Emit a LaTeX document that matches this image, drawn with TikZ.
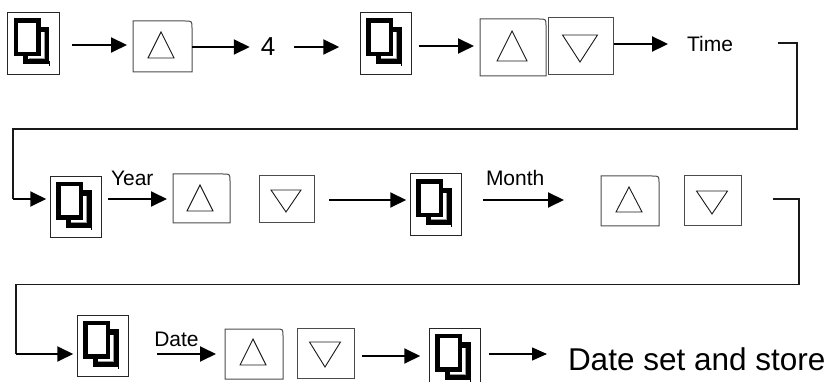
\documentclass[tikz,border=0pt]{standalone}
\usepackage{fontspec}
\setmainfont{Liberation Sans}
\usetikzlibrary{arrows.meta}
\tikzset{
  x=1pt,y=-1pt,
  keybox/.style={draw=black!85,line width=.9pt,inner sep=0pt,outer sep=0pt,minimum width=51.5pt,minimum height=61.5pt},
  btnbox/.style={inner sep=0pt,outer sep=0pt},
  btnline/.style={draw=black!70,line width=1pt},
  tri/.style={draw=black!90,line width=.9pt,line join=miter},
  arr/.style={draw=black,line width=1.9pt,-{Triangle[length=16pt,width=15pt]}},
  thinarr/.style={draw=black,line width=1.3pt,-{Triangle[length=15pt,width=13pt]}},
  wire/.style={draw=black!90,line width=1.2pt,line join=miter},
  lab/.style={inner sep=0pt,outer sep=0pt,font=\fontsize{21}{21}\selectfont},
}
% key icon: #1 name, #2 centre x, #3 centre y
\newcommand{\keyicon}[3]{%
  \node[keybox] (#1) at (#2,#3) {};
  \begin{scope}[shift={(#1.center)}]
    \draw[black,line width=4.6pt,line join=miter] (-17.5,-23) rectangle (5,10.5);
    \draw[black,line width=5.2pt,line join=miter] (6.5,-14) -- (13.3,-14) -- (13.3,18) -- (-7.7,18) -- (-7.7,12.5);
    \draw[black!40,line width=.8pt] (10.4,-11) -- (10.4,15.2) -- (-5,15.2);
    \draw[black,line width=.7pt] (15.6,18) -- (15.6,23);
  \end{scope}}
% up key: #1 name, #2..#5 x1 y1 x2 y2, #6 apex x, #7 apex y, #8 base y, #9 half base
\newcommand{\upkey}[9]{%
  \node[btnbox,minimum width={#4-#2},minimum height={#5-#3}] (#1) at ({(#2+#4)/2},{(#3+#5)/2}) {};
  \draw[btnline] (#1.south west) -- (#1.north west) -- ([xshift=-7pt]#1.north east)
    .. controls (#1.north east) .. ([yshift=-7pt]#1.north east) -- (#1.south east) -- cycle;
  \draw[tri] (#6,#7) -- ({#6-#9},#8) -- ({#6+#9},#8) -- cycle;}
% down key: same arguments, apex below the base
\newcommand{\downkey}[9]{%
  \node[btnbox,btnline,minimum width={#4-#2},minimum height={#5-#3}] (#1) at ({(#2+#4)/2},{(#3+#5)/2}) {};
  \draw[tri] (#6,#7) -- ({#6-#9},#8) -- ({#6+#9},#8) -- cycle;}
\begin{document}
\begin{tikzpicture}
\useasboundingbox (0,0) rectangle (830,382);
\clip (0,0) rectangle (830,382);

% row 1
\keyicon{ka}{33.5}{43.5}
\upkey{ua}{133}{21}{192}{72}{161}{32}{58}{13}
\node[lab,font=\fontsize{26}{26}\selectfont] (four) at (268,47) {4};
\keyicon{kb}{386}{43.5}
\upkey{ub}{480}{19}{546}{76}{512}{31}{61}{15}
\downkey{db}{548}{18}{613}{75}{580}{62}{35}{17.5}
\node[lab] (time) at (710,44) {Time};

\draw[arr] ([xshift=13pt]ka.east |- 0,45) -- ([xshift=-6pt]ua.west |- 0,45);
\draw[arr] (ua.east |- 0,47) -- ([xshift=-11pt]four.west |- 0,47);
\draw[arr] ([xshift=19pt]four.east |- 0,47) -- ([xshift=-21pt]kb.west |- 0,47);
\draw[arr] ([xshift=7pt]kb.east |- 0,46) -- ([xshift=-6pt]ub.west |- 0,46);
\draw[arr] ([xshift=1pt]db.east |- 0,44) -- ([xshift=-19pt]time.west |- 0,44);

% row 2
\keyicon{kc}{76}{207}
\upkey{uc}{173}{174}{230}{223}{200}{185}{211}{13}
\downkey{dc}{259}{176}{314}{223}{286}{212}{190}{15}
\keyicon{kd}{436}{204.5}
\upkey{ud}{601}{176}{659}{226}{629}{187}{212}{13}
\downkey{dd}{684}{176}{741}{226}{712}{214}{191}{15.5}
\node[lab,anchor=west] (year) at (111,178) {Year};
\node[lab,anchor=west] (month) at (486,178) {Month};

\coordinate (wa) at (778,43);
\coordinate (wb) at (773,199);

\draw[wire] (wa) -- (797,43) -- (797,129) -- (13,129) -- (13,199);
\draw[arr] (13,199) -- ([xshift=-4pt]kc.west |- 0,199);
\draw[arr] ([xshift=6pt]kc.east |- 0,199) -- ([xshift=-6pt]uc.west |- 0,199);
\draw[arr] ([xshift=15pt]dc.east |- 0,200) -- ([xshift=-4pt]kd.west |- 0,200);
\draw[arr] ([xshift=21pt]kd.east |- 0,200) -- ([xshift=-37pt]ud.west |- 0,200);

% row 3
\keyicon{ke}{103}{346}
\upkey{ue}{225}{329}{283}{379}{253}{339}{365}{13}
\downkey{de}{297}{328}{354}{378}{325}{367}{342}{15.5}
\keyicon{kf}{455}{359}
\node[lab] (date) at (176.5,339) {Date};
\node[lab,anchor=west,font=\fontsize{31.5}{31.5}\selectfont] (store) at (568,359) {Date set and store};

\draw[wire] (wb) -- (799,199) -- (799,284.5) -- (16,284.5) -- (16,354);
\draw[arr] (16,354) -- ([xshift=-4pt]ke.west |- 0,354);
\draw[arr] ([xshift=28pt]ke.east |- 0,354) -- ([xshift=-9pt]ue.west |- 0,354);
\draw[arr] ([xshift=8pt]de.east |- 0,356) -- ([xshift=-9pt]kf.west |- 0,356);
\draw[thinarr] ([xshift=8pt]kf.east |- 0,354) -- ([xshift=-21pt]store.west |- 0,354);
\end{tikzpicture}
\end{document}
